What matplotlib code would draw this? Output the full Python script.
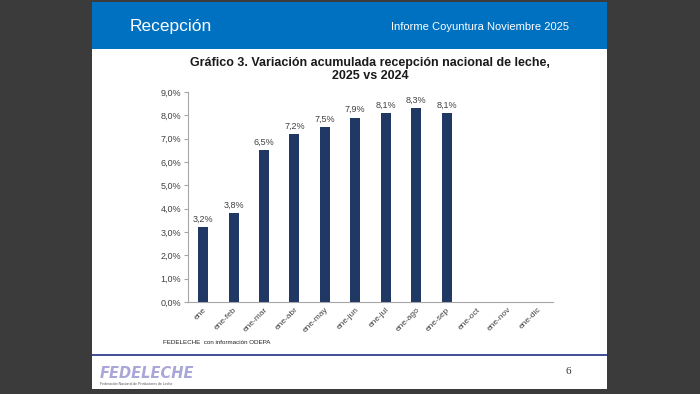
import numpy as np
import matplotlib.pyplot as plt
from matplotlib.patches import Rectangle
from matplotlib.lines import Line2D

months = ["ene", "ene-feb", "ene-mar", "ene-abr", "ene-may", "ene-jun",
          "ene-jul", "ene-ago", "ene-sep", "ene-oct", "ene-nov", "ene-dic"]
values = [3.2, 3.8, 6.5, 7.2, 7.5, 7.9, 8.1, 8.3, 8.1, np.nan, np.nan, np.nan]
yticks = np.arange(0, 10, 1.0)

W, H = 700, 394
fig = plt.figure(figsize=(7, 3.94), dpi=100, facecolor="#3b3b3b")
plt.rcParams["font.family"] = ["Liberation Sans", "DejaVu Sans"]

# slide background and header
fig.patches.append(Rectangle((92 / W, 1 - 389 / H), 515 / W, 387 / H,
                             transform=fig.transFigure, facecolor="white", zorder=-2))
fig.patches.append(Rectangle((92 / W, 1 - 49 / H), 515 / W, 47 / H,
                             transform=fig.transFigure, facecolor="#0070c0", zorder=-1))
fig.lines.append(Line2D([92 / W, 607 / W], [1 - 355 / H] * 2, transform=fig.transFigure,
                        color="#1f2f8a", lw=1.2))
fig.text(130 / W, 1 - 27 / H, "Recepción", color="white", fontsize=12.5, va="center")
fig.text(569 / W, 1 - 27 / H, "Informe Coyuntura Noviembre 2025", color="white",
         fontsize=8, va="center", ha="right")

ax = fig.add_axes([188 / W, 1 - 302 / H, 365 / W, 210 / H], zorder=2)
ax.set_facecolor("none")
x = np.arange(len(months))
bars = ax.bar(x, values, width=0.33, color="#1f3864")
for xi, v in zip(x, values):
    if not np.isnan(v):
        ax.text(xi, v + 0.15, f"{v:.1f}%".replace(".", ","), ha="center", va="bottom",
                fontsize=6.5, color="#404040")

ax.set_xlim(-0.5, len(months) - 0.5)
ax.set_ylim(0, 9)
ax.set_yticks(yticks)
ax.set_yticklabels([f"{t:.1f}%".replace(".", ",") for t in yticks], fontsize=6.5, color="#404040")
ax.set_xticks(x)
ax.set_xticklabels(months, rotation=45, ha="right", rotation_mode="anchor",
                   fontsize=6, color="#404040")
for s in ["top", "right"]:
    ax.spines[s].set_visible(False)
ax.spines["left"].set_color("#a6a6a6")
ax.spines["bottom"].set_color("#a6a6a6")
ax.tick_params(axis="y", length=3, color="#a6a6a6", pad=2)
ax.tick_params(axis="x", length=0, pad=3)

fig.text(370 / W, 1 - 63 / H, "Gráfico 3. Variación acumulada recepción nacional de leche,",
         ha="center", va="center", fontsize=9, fontweight="bold", color="#1a1a1a")
fig.text(370 / W, 1 - 76 / H, "2025 vs 2024", ha="center", va="center",
         fontsize=9, fontweight="bold", color="#1a1a1a")
fig.text(163 / W, 1 - 343 / H, "FEDELECHE  con información ODEPA", fontsize=4.5,
         color="#202020", va="center")

# footer
fig.text(100 / W, 1 - 373 / H, "FEDELECHE", fontsize=10.5, color="#a9a6d8", va="center",
         fontweight="bold", style="italic", family=["DejaVu Sans"])
fig.text(100 / W, 1 - 384 / H, "Federación Nacional de Productores de Leche", fontsize=2.5,
         color="#555555", va="center")
fig.text(566 / W, 1 - 372 / H, "6", fontsize=8, color="#333333", va="center",
         family=["Liberation Serif"])

fig.savefig("out.png", dpi=100, facecolor=fig.get_facecolor())
